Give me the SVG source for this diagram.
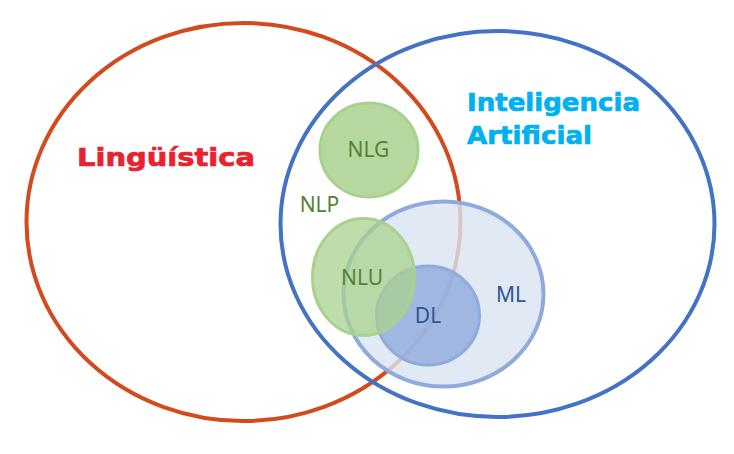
<svg xmlns="http://www.w3.org/2000/svg" width="734" height="454" viewBox="0 0 734 454">
<style>
.big{font-family:"DejaVu Sans",Verdana,sans-serif;font-weight:bold;font-size:25px;stroke-width:0.7px}
.lbl{font-family:"Noto Sans","Open Sans",sans-serif;font-size:21px;text-anchor:middle}
.g{fill:#548235}
.b{fill:#2f5597}
.ai{fill:#00b0f0;stroke:#00b0f0}
.ling{fill:#e8222f;stroke:#e8222f}
</style>
<rect width="734" height="454" fill="#ffffff"/>
<g id="linguistica">
<ellipse cx="243.5" cy="222" rx="217" ry="199" fill="none" stroke="#d24a1e" stroke-width="4"/>
<text class="big ling" x="77" y="166" textLength="178" lengthAdjust="spacingAndGlyphs">Lingüística</text>
</g>
<g id="ia">
<ellipse cx="497.5" cy="224" rx="217" ry="193" fill="none" stroke="#4472c4" stroke-width="4"/>
<text class="big ai" x="467" y="111" textLength="173" lengthAdjust="spacingAndGlyphs">Inteligencia</text>
<text class="big ai" x="467" y="144" textLength="125" lengthAdjust="spacingAndGlyphs">Artificial</text>
</g>
<g id="nlp">
<text class="lbl g" x="319.5" y="212">NLP</text>
</g>
<g id="nlg">
<ellipse cx="369" cy="150" rx="49" ry="47" fill="#a9d18e" fill-opacity="0.85" stroke="#a9d18e" stroke-width="3"/>
<text class="lbl g" x="368.5" y="157">NLG</text>
</g>
<g id="ml">
<ellipse cx="443.5" cy="294" rx="100" ry="92.5" fill="#dae3f3" fill-opacity="0.8" stroke="#8faadc" stroke-width="4"/>
<text class="lbl b" x="511" y="302">ML</text>
</g>
<g id="dl">
<ellipse cx="428" cy="315.5" rx="51.5" ry="49.5" fill="#8faadc" fill-opacity="0.8" stroke="#8faadc" stroke-width="3"/>
<text class="lbl b" x="428" y="323">DL</text>
</g>
<g id="nlu">
<ellipse cx="363.5" cy="277" rx="51" ry="58.5" fill="#a9d18e" fill-opacity="0.75" stroke="#a9d18e" stroke-width="3"/>
<text class="lbl g" x="362" y="285">NLU</text>
</g>
<g id="connectors"></g>
</svg>
